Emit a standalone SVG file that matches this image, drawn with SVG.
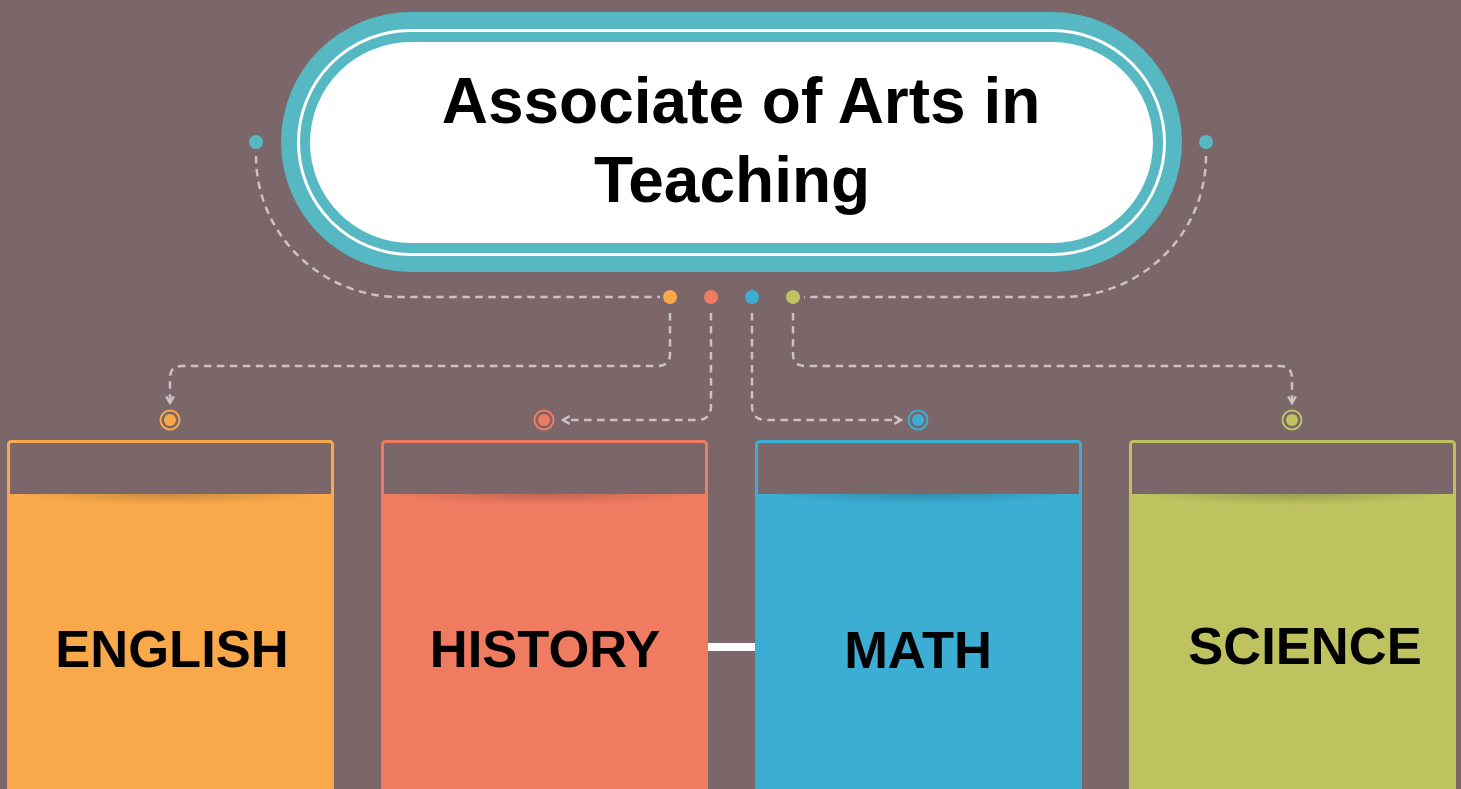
<svg xmlns="http://www.w3.org/2000/svg" width="1461" height="789" viewBox="0 0 1461 789">
<defs>
<style>
.dash{fill:none;stroke:#cbc3c3;stroke-width:2.5;stroke-dasharray:7.5 5.5}
.lbl{font-family:"Liberation Sans",Arial,sans-serif;font-weight:bold;font-size:52.5px;fill:#000;text-anchor:middle}
.ttl{font-family:"Liberation Sans",Arial,sans-serif;font-weight:bold;font-size:64px;fill:#000;text-anchor:middle}
</style>
<marker id="arr" viewBox="0 0 10 10" refX="8" refY="5" markerWidth="11" markerHeight="11" markerUnits="userSpaceOnUse" orient="auto">
<path d="M2,1.5 L8,5 L2,8.5" fill="none" stroke="#cbc3c3" stroke-width="2.2"/>
</marker>
<radialGradient id="sh" cx="0.5" cy="0" r="0.5" fx="0.5" fy="0">
<stop offset="0" stop-color="#000" stop-opacity="0.18"/>
<stop offset="1" stop-color="#000" stop-opacity="0"/>
</radialGradient>
</defs>
<rect width="1461" height="789" fill="#7b6669"/>

<g id="title">
<rect x="281" y="12" width="901" height="260" rx="130" fill="#55b8c3"/>
<rect x="298.5" y="30.5" width="866" height="224" rx="112" fill="none" stroke="#fff" stroke-width="3"/>
<rect x="310" y="42" width="843" height="201" rx="100.5" fill="#fff"/>
<text class="ttl" x="741" y="123">Associate of Arts in</text>
<text class="ttl" x="732" y="202">Teaching</text>
</g>

<g id="connectors">
<circle cx="256" cy="142" r="7" fill="#55b8c3"/>
<circle cx="1206" cy="142" r="7" fill="#55b8c3"/>
<path class="dash" d="M256,156 A144,141 0 0 0 400,297 H660"/>
<path class="dash" d="M1206,156 A144,141 0 0 1 1062,297 H804"/>
<circle cx="670" cy="297" r="7" fill="#f9a94a"/>
<circle cx="711" cy="297" r="7" fill="#ef7b60"/>
<circle cx="752" cy="297" r="7" fill="#3cadd3"/>
<circle cx="793" cy="297" r="7" fill="#bec25f"/>
<path class="dash" d="M670,313 V354 Q670,366 658,366 H182 Q170,366 170,378 V403" marker-end="url(#arr)"/>
<path class="dash" d="M711,313 V406 Q711,420 697,420 H563" marker-end="url(#arr)"/>
<path class="dash" d="M752,313 V406 Q752,420 766,420 H901" marker-end="url(#arr)"/>
<path class="dash" d="M793,313 V354 Q793,366 805,366 H1280 Q1292,366 1292,378 V403" marker-end="url(#arr)"/>
<rect x="708" y="643" width="47" height="8" fill="#fff"/>
</g>

<g id="english">
<circle cx="170" cy="420" r="9.5" fill="none" stroke="#f9a94a" stroke-width="2"/>
<circle cx="170" cy="420" r="6" fill="#f9a94a"/>
<rect x="8.5" y="441.5" width="324" height="360" rx="3" fill="none" stroke="#f9a94a" stroke-width="3"/>
<rect x="7" y="494" width="327" height="300" fill="#f9a94a"/>
<rect x="20" y="494" width="300" height="22" fill="url(#sh)"/>
<text class="lbl" x="172" y="667">ENGLISH</text>
</g>

<g id="history">
<circle cx="544" cy="420" r="9.5" fill="none" stroke="#ef7b60" stroke-width="2"/>
<circle cx="544" cy="420" r="6" fill="#ef7b60"/>
<rect x="382.5" y="441.5" width="324" height="360" rx="3" fill="none" stroke="#ef7b60" stroke-width="3"/>
<rect x="381" y="494" width="327" height="300" fill="#ef7b60"/>
<rect x="394" y="494" width="300" height="22" fill="url(#sh)"/>
<text class="lbl" x="545" y="667">HISTORY</text>
</g>

<g id="math">
<circle cx="918" cy="420" r="9.5" fill="none" stroke="#3cadd3" stroke-width="2"/>
<circle cx="918" cy="420" r="6" fill="#3cadd3"/>
<rect x="756.5" y="441.5" width="324" height="360" rx="3" fill="none" stroke="#3cadd3" stroke-width="3"/>
<rect x="755" y="494" width="327" height="300" fill="#3cadd3"/>
<rect x="768" y="494" width="300" height="22" fill="url(#sh)"/>
<text class="lbl" x="918" y="668">MATH</text>
</g>

<g id="science">
<circle cx="1292" cy="420" r="9.5" fill="none" stroke="#bec25f" stroke-width="2"/>
<circle cx="1292" cy="420" r="6" fill="#bec25f"/>
<rect x="1130.5" y="441.5" width="324" height="360" rx="3" fill="none" stroke="#bec25f" stroke-width="3"/>
<rect x="1129" y="494" width="327" height="300" fill="#bec25f"/>
<rect x="1142" y="494" width="300" height="22" fill="url(#sh)"/>
<text class="lbl" x="1305" y="664">SCIENCE</text>
</g>
</svg>
